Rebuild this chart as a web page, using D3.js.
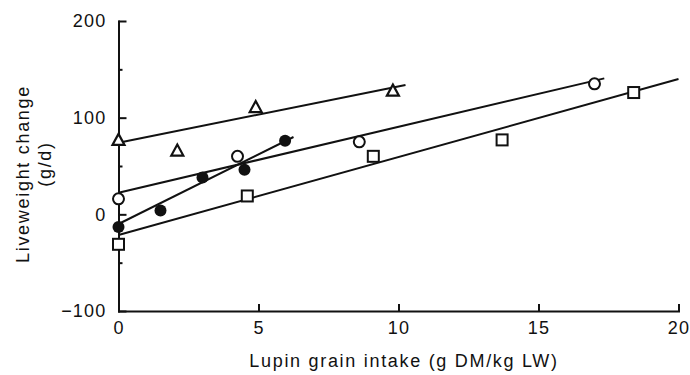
<!DOCTYPE html>
<html>
<head>
<meta charset="utf-8">
<script src="https://cdn.jsdelivr.net/npm/d3@7"></script>
<style>
  body { margin: 0; background: #fff; }
  svg text { font-family: "Liberation Sans", Arial, sans-serif; fill: #111; }
</style>
</head>
<body>
<svg id="chart" width="690" height="375"></svg>
<script>
// data
const triX = [0, 2.1, 4.9, 9.8];
const triY = [77, 66, 111, 128];
const openX = [0, 4.25, 8.6, 17.0];
const openY = [16, 60, 75, 135];
const fillX = [0, 1.5, 3.0, 4.5, 5.95];
const fillY = [-13, 4, 38, 46, 76];
const sqX = [0, 4.6, 9.1, 13.7, 18.4];
const sqY = [-31, 19, 60, 77, 126];

// fitted lines: intercept, slope, last x
const fitIntercepts = [74, 22.3, -10, -21.4];
const fitSlopes = [5.84, 6.82, 14.4, 8.07];
const fitEnds = [10.25, 17.35, 6.25, 20];

const xTicks = [0, 5, 10, 15, 20];
const yTicks = [200, 100, 0, -100];
const yMinor = [150, 50, -50];

const svg = d3.select('#chart');

const x = d3.scaleLinear().domain([0, 20]).range([118.5, 678.5]);
const y = d3.scaleLinear().domain([-100, 200]).range([311, 21]);

// axes
const yAxis = svg.append('g')
  .attr('transform', `translate(${x(0)},0)`)
  .call(d3.axisLeft(y).tickValues(yTicks).tickSizeInner(-8).tickSizeOuter(0).tickPadding(12)
    .tickFormat(d => d < 0 ? '\u2212' + Math.abs(d) : d));
svg.append('g')
  .attr('transform', `translate(${x(0)},0)`)
  .call(d3.axisLeft(y).tickValues(yMinor).tickSizeInner(-4).tickSizeOuter(0).tickFormat(''))
  .select('.domain').remove();

const xAxis = svg.append('g')
  .attr('transform', `translate(0,${y(-100)})`)
  .call(d3.axisBottom(x).tickValues(xTicks).tickSizeInner(-7).tickSizeOuter(0).tickPadding(10));

svg.selectAll('.domain, .tick line').attr('stroke', '#111').attr('stroke-width', 2);
svg.selectAll('.tick text')
  .attr('font-size', 18)
  .attr('letter-spacing', 1.2)
  .attr('fill', '#111');
svg.selectAll('.domain').attr('stroke-linecap', 'square');

// axis titles
svg.append('text')
  .attr('x', 404).attr('y', 367)
  .attr('text-anchor', 'middle')
  .attr('font-size', 18)
  .attr('letter-spacing', 1.7)
  .text('Lupin grain intake (g DM/kg LW)');

svg.append('text')
  .attr('transform', 'translate(29,174) rotate(-90)')
  .attr('text-anchor', 'middle')
  .attr('font-size', 18)
  .attr('letter-spacing', 1.7)
  .text('Liveweight change');
svg.append('text')
  .attr('transform', 'translate(51,164) rotate(-90)')
  .attr('text-anchor', 'middle')
  .attr('font-size', 18)
  .attr('letter-spacing', 1.7)
  .text('(g/d)');

// fitted lines
const fits = fitIntercepts.map((a, i) => ({ a, b: fitSlopes[i], end: fitEnds[i] }));
svg.append('g').selectAll('line')
  .data(fits)
  .enter()
  .append('line')
  .attr('x1', x(0))
  .attr('y1', d => y(d.a))
  .attr('x2', d => x(d.end))
  .attr('y2', d => y(d.a + d.b * d.end))
  .attr('stroke', '#111')
  .attr('stroke-width', 2);

const pts = (xs, ys) => xs.map((v, i) => ({ x: v, y: ys[i] }));

// triangles
svg.append('g').selectAll('path')
  .data(pts(triX, triY))
  .enter()
  .append('path')
  .attr('d', 'M0,-6 L6,5 L-6,5 Z')
  .attr('transform', d => `translate(${x(d.x)},${y(d.y)})`)
  .attr('fill', '#fff')
  .attr('stroke', '#111')
  .attr('stroke-width', 2.2);

// open circles
svg.append('g').selectAll('circle')
  .data(pts(openX, openY))
  .enter()
  .append('circle')
  .attr('cx', d => x(d.x))
  .attr('cy', d => y(d.y))
  .attr('r', 5.5)
  .attr('fill', '#fff')
  .attr('stroke', '#111')
  .attr('stroke-width', 2);

// filled circles
svg.append('g').selectAll('circle')
  .data(pts(fillX, fillY))
  .enter()
  .append('circle')
  .attr('cx', d => x(d.x))
  .attr('cy', d => y(d.y))
  .attr('r', 6)
  .attr('fill', '#111');

// squares
svg.append('g').selectAll('rect')
  .data(pts(sqX, sqY))
  .enter()
  .append('rect')
  .attr('x', d => x(d.x) - 5.5)
  .attr('y', d => y(d.y) - 5.5)
  .attr('width', 11)
  .attr('height', 11)
  .attr('fill', '#fff')
  .attr('stroke', '#111')
  .attr('stroke-width', 2);
</script>
</body>
</html>
